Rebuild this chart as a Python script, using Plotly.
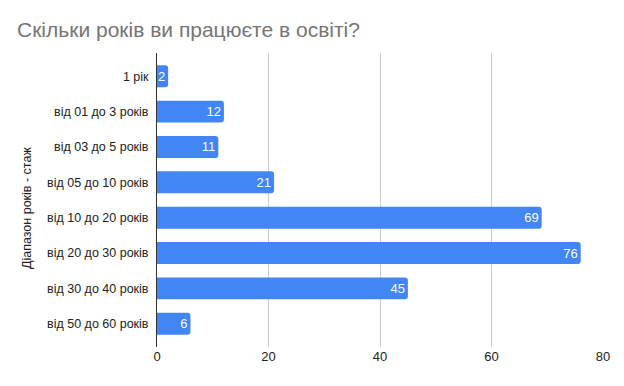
import plotly.graph_objects as go

categories = ["1 рік", "від 01 до 3 років", "від 03 до 5 років", "від 05 до 10 років",
              "від 10 до 20 років", "від 20 до 30 років", "від 30 до 40 років", "від 50 до 60 років"]
values = [2, 12, 11, 21, 69, 76, 45, 6]
x_ticks = [0, 20, 40, 60, 80]

# page body has an 8px default margin, so the figure is sized to fill the rest of the window
W, H = 616, 378
FONT = "Liberation Sans, Arial"

fig = go.Figure(go.Bar(
    y=categories, x=values, orientation="h",
    marker=dict(color="#4285F4", line=dict(width=0)),
    text=[str(v) for v in values],
    textposition="inside", insidetextanchor="end", constraintext="none", textangle=0,
    textfont=dict(color="white", size=13, family=FONT),
))

fig.update_layout(
    width=W, height=H,
    margin=dict(l=149, r=21, t=45, b=39, pad=0, autoexpand=False),
    paper_bgcolor="white", plot_bgcolor="white",
    font=dict(family=FONT, size=13, color="#222222"),
    title=dict(text="Скільки років ви працюєте в освіті?", x=9 / W, xanchor="left", xref="container",
               y=1 - 22 / H, yanchor="middle", yref="container",
               font=dict(size=21, color="#757575")),
    bargap=0.38,
    barcornerradius=3,
    showlegend=False,
    annotations=[dict(text="Діапазон років - стаж", x=-130 / 446, xref="paper", y=0.5 - 8 / 294, yref="paper",
                      xanchor="center", yanchor="middle",
                      textangle=-90, showarrow=False, font=dict(size=12.5, color="#222222"))],
)
fig.update_xaxes(range=[0, 80], tickvals=x_ticks, showgrid=True, gridcolor="#cccccc",
                 zeroline=False, ticks="", tickfont=dict(size=13, color="#222222"), automargin=False)
fig.update_yaxes(range=[7.657, -0.657], showline=True, linecolor="#333333", linewidth=1,
                 ticks="", ticklabelstandoff=5, automargin=False,
                 tickfont=dict(size=12.5, color="#222222"))

fig.write_html("out.html")
